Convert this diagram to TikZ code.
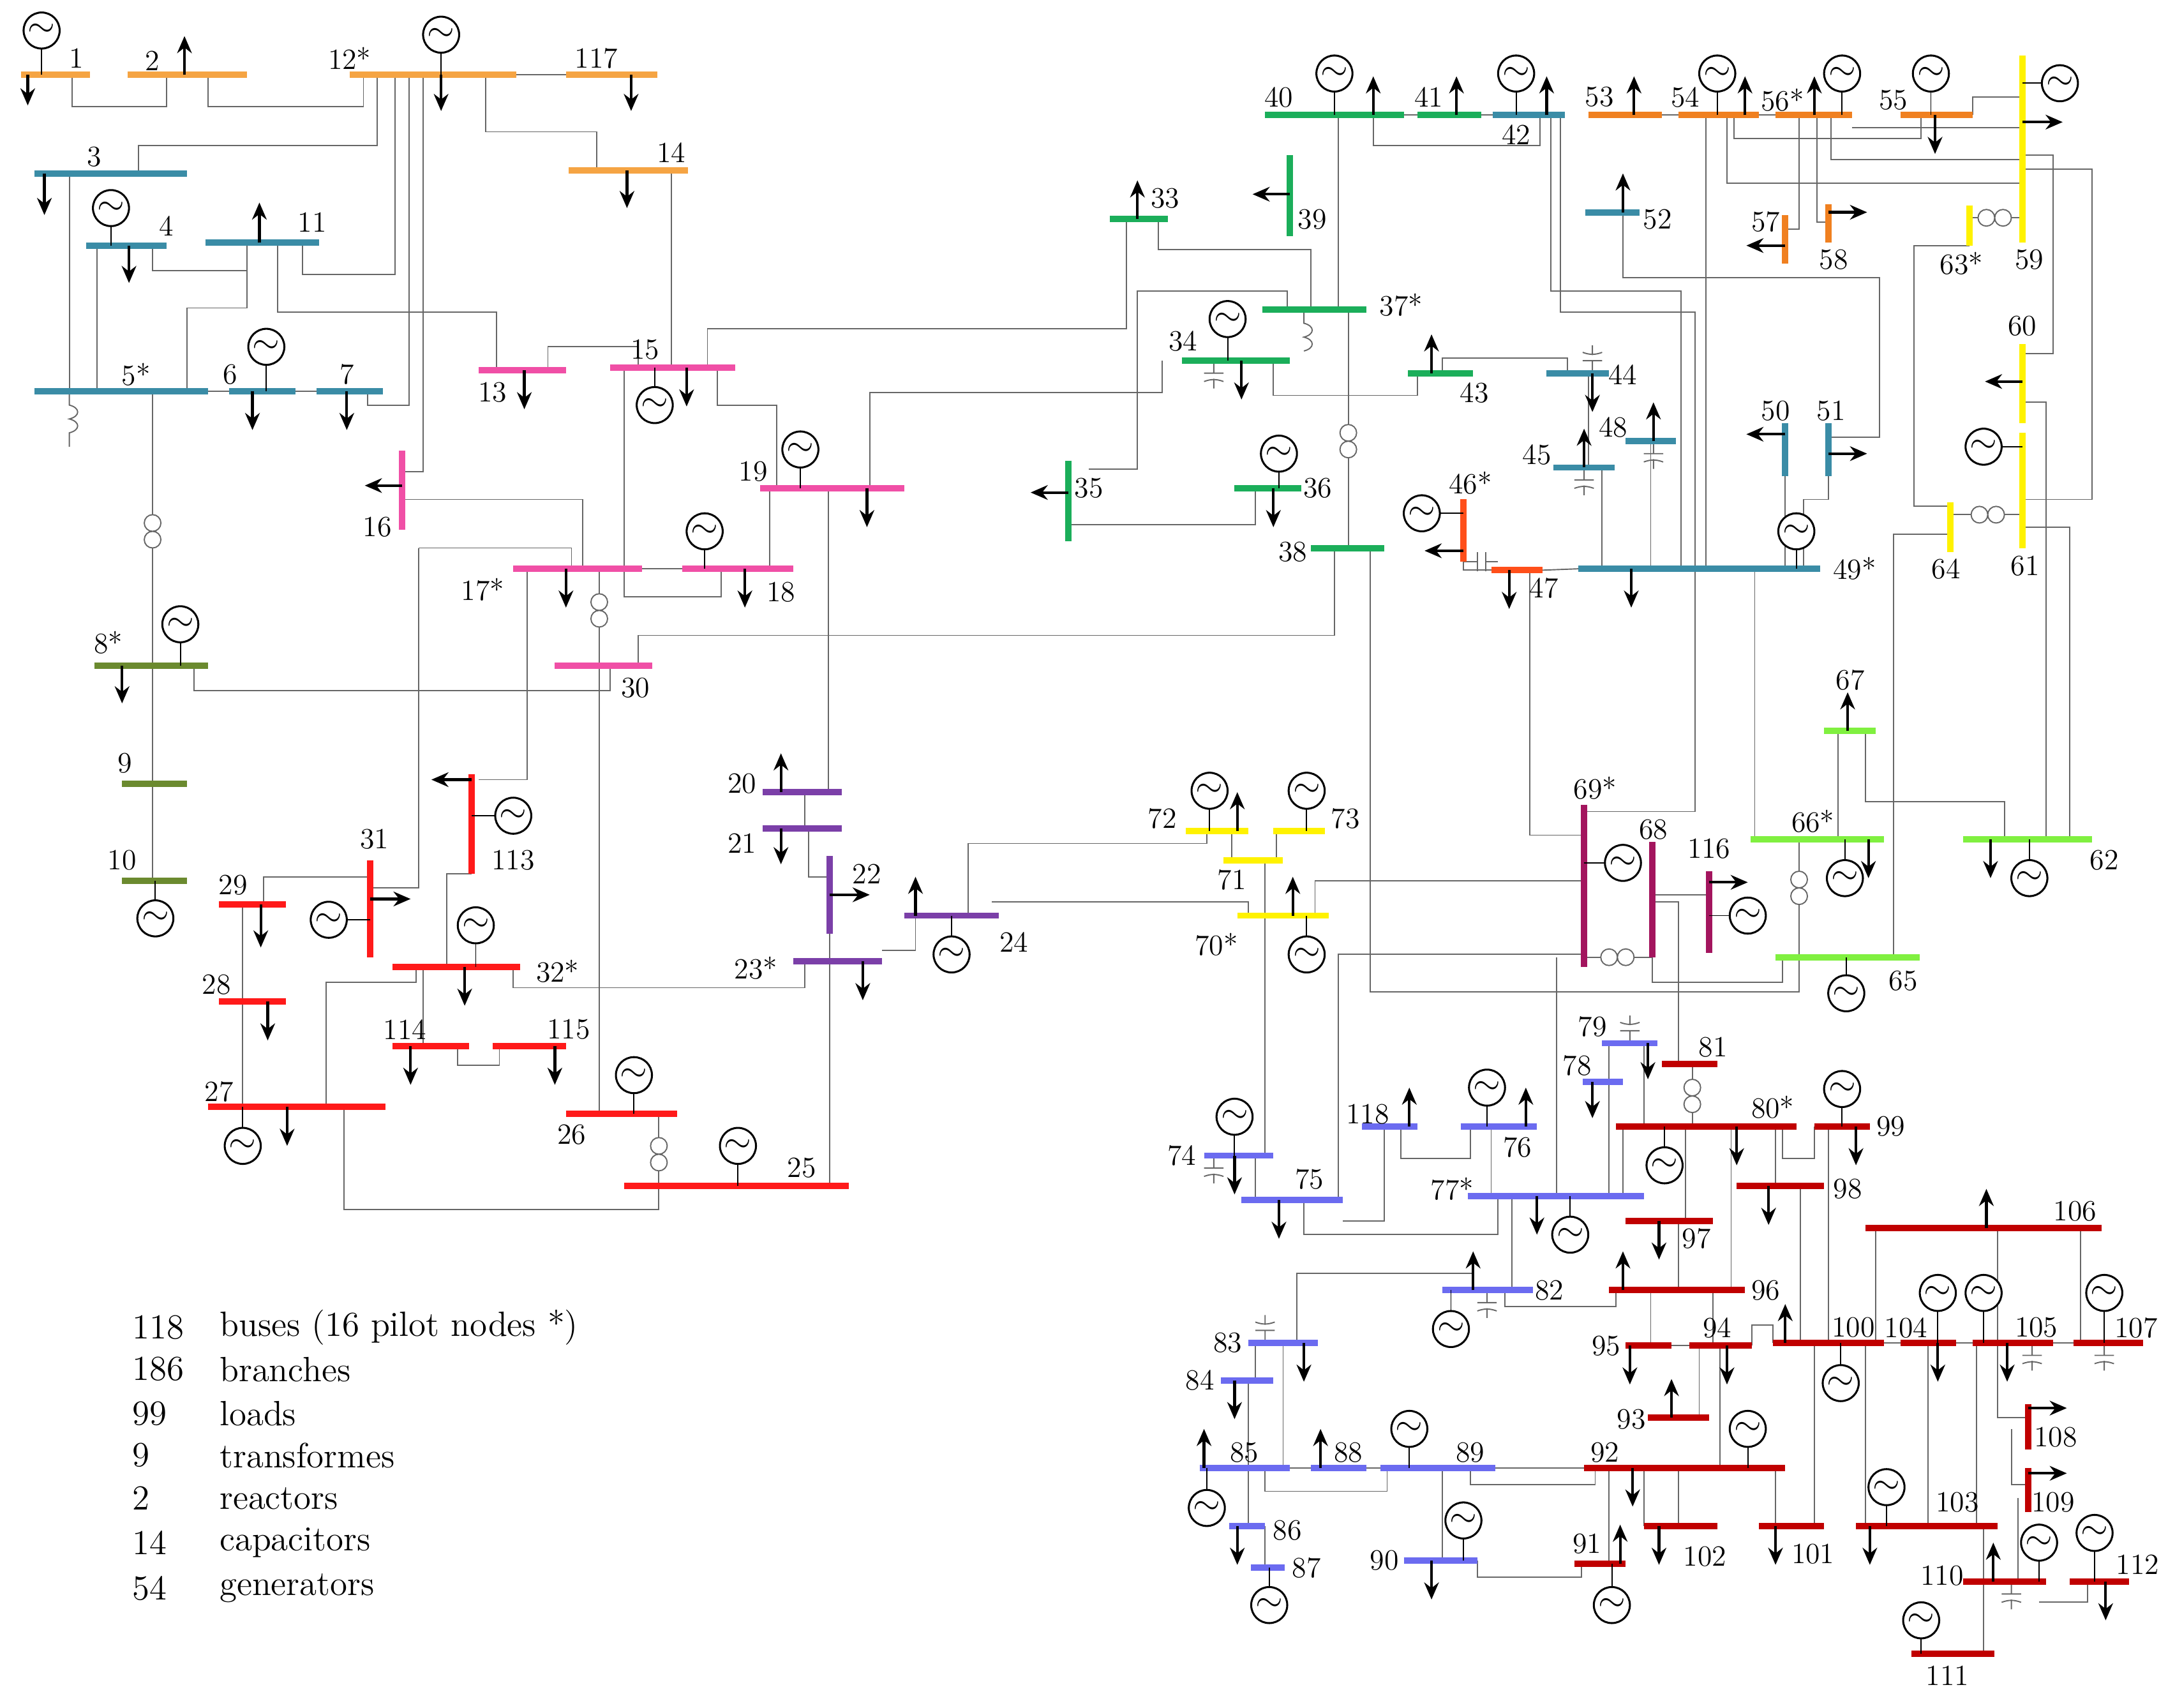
\documentclass[tikz,border=0pt]{standalone}
\usetikzlibrary{arrows.meta}
\definecolor{cOr}{HTML}{F5A443}\definecolor{cTe}{HTML}{3A8CA6}\definecolor{cPk}{HTML}{F04FA6}
\definecolor{cOl}{HTML}{6B8A2F}\definecolor{cRd}{HTML}{FF1A1A}\definecolor{cPu}{HTML}{7B3FA8}
\definecolor{cGr}{HTML}{1BAE5A}\definecolor{cO2}{HTML}{F08020}\definecolor{cOR}{HTML}{FF4F1A}
\definecolor{cYe}{HTML}{FFF200}\definecolor{cLg}{HTML}{80F040}\definecolor{cMg}{HTML}{A3155E}
\definecolor{cBl}{HTML}{6B6BF0}\definecolor{cDr}{HTML}{C00000}
\tikzset{bus/.style={line width=2.6pt},wire/.style={draw=gray!80!black,line width=0.5pt},
 gen/.style={circle,draw=black,fill=white,line width=0.8pt,minimum size=0.52cm,inner sep=0pt,font=\Large},
 load/.style={line width=1.1pt,-{Stealth[length=7pt,width=6pt]}},
 lab/.style={font=\large,inner sep=0pt},
 leg/.style={font=\Large,anchor=west,inner sep=0pt}}
\newcommand\Hb[4]{\draw[bus,#4] (#1,#3)--(#2,#3);}
\newcommand\Vb[4]{\draw[bus,#4] (#1,#2)--(#1,#3);}
\newcommand\Gn[3]{\draw[wire,black] (#1,#3)--(#1,#2); \node[gen] at (#1,#2) {$\sim$};}
\newcommand\Gh[3]{\draw[wire,black] (#3,#2)--(#1,#2); \node[gen] at (#1,#2) {$\sim$};}
\newcommand\Ld[4]{\draw[load] (#1,#2)--(#3,#4);}
\newcommand\Lb[3]{\node[lab] at (#1,#2) {#3};}
\newcommand\Br[1]{\draw[wire] #1;}
\newcommand\Xv[2]{\draw[wire,fill=white] (#1,#2-6) circle (0.12cm) (#1,#2+6) circle (0.12cm);}
\newcommand\Xh[2]{\draw[wire,fill=white] (#1-6,#2) circle (0.12cm) (#1+6,#2) circle (0.12cm);}
\newcommand\Cd[2]{\draw[wire] (#1,#2)--(#1,#2+9) (#1-7,#2+9)--(#1+7,#2+9) (#1-7,#2+15) to[bend left=20] (#1+7,#2+15) (#1,#2+13)--(#1,#2+20);}
\newcommand\Cu[2]{\draw[wire] (#1,#2)--(#1,#2-9) (#1-7,#2-9)--(#1+7,#2-9) (#1-7,#2-15) to[bend right=20] (#1+7,#2-15) (#1,#2-13)--(#1,#2-20);}
\begin{document}
\begin{tikzpicture}[x=0.02cm,y=-0.02cm]
\useasboundingbox (0,0) rectangle (1568,1231);
% ---------------- branches
\Br{(52,54)--(52,77)--(120,77)--(120,54)}
\Br{(150,54)--(150,77)--(262,77)--(262,54)}
\Br{(50,125)--(50,282)}
\Br{(100,125)--(100,105)--(272,105)--(272,54)}
\Br{(70,177)--(70,282)}
\Br{(110,177)--(110,195)--(178,195)--(178,175)}
\Br{(135,282)--(135,222)--(178,222)--(178,175)}
\Br{(200,175)--(200,225)--(358,225)--(358,267)}
\Br{(218,175)--(218,198)--(285,198)--(285,54)}
\Br{(265,282)--(265,292)--(295,292)--(295,54)}
\Br{(150,282)--(165,282) (213,282)--(228,282)}
\Br{(305,54)--(305,340)--(290,340)}
\Br{(350,54)--(350,95)--(430,95)--(430,123)}
\Br{(372,54)--(408,54)}
\Br{(484,123)--(484,265)}
\Br{(395,267)--(395,250)--(460,250)--(460,265)}
\Br{(110,282)--(110,480)--(110,635)}
\Br{(140,480)--(140,498)--(440,498)--(440,480)}
\Br{(450,265)--(450,430)--(520,430)--(520,410)}
\Br{(517,265)--(517,292)--(560,292)--(560,352)}
\Br{(510,265)--(510,237)--(812,237)--(812,158)}
\Br{(290,360)--(420,360)--(420,410)}
\Br{(463,410)--(492,410)}
\Br{(432,410)--(432,480)}
\Br{(380,410)--(380,562)--(345,562)}
\Br{(302,395)--(412,395)--(412,410) (302,395)--(302,640)--(267,640)}
\Br{(597,352)--(597,571)}
\Br{(627,352)--(627,283)--(838,283)--(838,260)}
\Br{(555,352)--(555,410)}
\Br{(460,480)--(460,458)--(962,458)--(962,395)}
\Br{(432,480)--(432,803)}
\Br{(580,571)--(580,597)}
\Br{(583,597)--(583,632)--(598,632)}
\Br{(598,673)--(598,855)}
\Br{(636,685)--(660,685)--(660,660)}
\Br{(580,693)--(580,712)--(370,712)--(370,697)}
\Br{(698,660)--(698,608)--(870,608)--(870,599)}
\Br{(715,650)--(900,650)--(900,660)}
\Br{(475,855)--(475,872)--(248,872)--(248,798)}
\Br{(475,803)--(475,855)}
\Br{(175,652)--(175,798)}
\Br{(190,652)--(190,632)--(267,632)}
\Br{(235,798)--(235,708)--(300,708)--(300,697)}
\Br{(322,697)--(322,630)--(340,630)}
\Br{(305,697)--(305,754)}
\Br{(330,754)--(330,768)--(360,768)--(360,754)}
\Br{(835,158)--(835,180)--(945,180)--(945,223)}
\Br{(785,338)--(820,338)--(820,210)--(928,210)--(928,223)}
\Br{(770,378)--(905,378)--(905,352)}
\Br{(918,260)--(918,285)--(1022,285)--(1022,269)}
\Br{(972,223)--(972,395)}
\Br{(965,223)--(965,83)}
\Br{(988,395)--(988,715)--(1297,715)--(1297,690)}
\Br{(1012,83)--(1022,83) (1068,83)--(1076,83)}
\Br{(990,83)--(990,105)--(1110,105)--(1110,83)}
\Br{(1118,83)--(1118,210)--(1212,210)--(1212,410)}
\Br{(1125,83)--(1125,225)--(1222,225)--(1222,410)}
\Br{(1040,269)--(1040,258)--(1130,258)--(1130,269)}
\Br{(1145,269)--(1145,337)}
\Br{(1155,337)--(1155,410)}
\Br{(1055,405)--(1055,411)--(1075,411)}
\Br{(1112,411)--(1138,410)}
\Br{(1103,411)--(1103,602)--(1142,602)}
\Br{(1190,318)--(1190,410)}
\Br{(1287,343)--(1287,410)}
\Br{(1318,343)--(1318,360)--(1300,360)--(1300,410)}
\Br{(1230,83)--(1230,410)}
\Br{(1265,410)--(1265,605)}
\Br{(1222,410)--(1222,585)--(1142,585)}
\Br{(1170,153)--(1170,200)--(1355,200)--(1355,315)--(1318,315)}
\Br{(1198,83)--(1210,83) (1268,83)--(1280,83)}
\Br{(1250,83)--(1250,100)--(1385,100)--(1385,83)}
\Br{(1245,83)--(1245,132)--(1458,132)}
\Br{(1422,83)--(1422,70)--(1458,70)}
\Br{(1297,83)--(1297,165)--(1287,165)}
\Br{(1310,83)--(1310,160)--(1318,160)}
\Br{(1320,83)--(1320,115)--(1458,115)}
\Br{(1335,92)--(1458,92)}
\Br{(1458,112)--(1480,112)--(1480,255)--(1458,255)}
\Br{(1458,122)--(1508,122)--(1508,360)--(1458,360)}
\Br{(1420,157)--(1458,157)}
\Br{(1458,290)--(1475,290)--(1475,605)}
\Br{(1458,380)--(1492,380)--(1492,605)}
\Br{(1406,371)--(1458,371)}
\Br{(1325,527)--(1325,605)}
\Br{(1345,527)--(1345,578)--(1445,578)--(1445,605)}
\Br{(1406,385)--(1365,385)--(1365,690)}
\Br{(1420,177)--(1380,177)--(1380,365)--(1406,365)}
\Br{(1297,605)--(1297,690)}
\Br{(1285,690)--(1285,708)--(1191,708)--(1191,690)}
\Br{(1142,690)--(1191,690)}
\Br{(1191,650)--(1210,650)--(1210,767)}
\Br{(1191,645)--(1232,645)}
\Br{(1142,635)--(948,635)--(948,660)}
\Br{(1142,688)--(965,688)--(965,865)}
\Br{(1122,690)--(1122,862)}
\Br{(912,620)--(912,833)}
\Br{(888,620)--(888,599) (920,620)--(920,599)}
\Br{(905,833)--(905,865)}
\Br{(940,865)--(940,890)--(1080,890)--(1080,862)}
\Br{(968,880)--(998,880)--(998,812)}
\Br{(1075,812)--(1075,862)}
\Br{(1010,812)--(1010,835)--(1060,835)--(1060,812)}
\Br{(1160,752)--(1160,862)}
\Br{(1170,862)--(1170,812)}
\Br{(1090,862)--(1090,930)}
\Br{(1185,752)--(1185,812)}
\Br{(1248,812)--(1248,930) (1215,812)--(1215,880) (1280,812)--(1280,855)}
\Br{(1285,812)--(1285,835)--(1308,835)--(1308,812)}
\Br{(1220,767)--(1220,812)}
\Br{(935,968)--(935,918)--(1062,918)--(1062,930)}
\Br{(1085,930)--(1085,942)--(1165,942)--(1165,930)}
\Br{(905,968)--(905,995) (925,968)--(925,1058) (900,995)--(900,1100) (912,1100)--(912,1130)}
\Br{(930,1058)--(945,1058) (985,1058)--(995,1058)}
\Br{(912,1058)--(912,1075)--(1000,1075)--(1000,1058)}
\Br{(1040,1058)--(1040,1125)}
\Br{(1078,1058)--(1142,1058)}
\Br{(1060,1058)--(1060,1070)--(1150,1070)--(1150,1058)}
\Br{(1065,1125)--(1065,1137)--(1140,1137)--(1140,1127)}
\Br{(1160,1127)--(1160,1058)}
\Br{(1225,1022)--(1225,970) (1240,1058)--(1240,970) (1210,1058)--(1210,1100)}
\Br{(1205,970)--(1218,970) (1235,930)--(1235,970) (1190,930)--(1190,970) (1210,880)--(1210,930)}
\Br{(1263,970)--(1263,955)--(1278,955)--(1278,968)}
\Br{(1298,855)--(1298,968) (1318,812)--(1318,968) (1308,968)--(1308,1100)}
\Br{(1345,968)--(1345,1100) (1358,968)--(1370,968) (1352,968)--(1352,885)}
\Br{(1390,968)--(1390,1100) (1425,968)--(1425,1100) (1430,1100)--(1430,1192)}
\Br{(1410,968)--(1422,968) (1440,885)--(1440,968) (1480,968)--(1495,968) (1500,885)--(1500,968)}
\Br{(1440,968)--(1440,1022)--(1462,1022)}
\Br{(1450,1030)--(1450,1070)--(1462,1070)}
\Br{(1455,1080)--(1455,1140)}
\Br{(1470,1155)--(1505,1155)--(1505,1140)}
\Br{(1185,1058)--(1185,1100) (1280,1058)--(1280,1100)}
% transformers
\Xv{110}{383}\Xv{432}{440}\Xv{475}{832}\Xv{972}{318}\Xv{1297}{640}\Xv{1220}{790}
\Xh{1438}{157}\Xh{1433}{371}\Xh{1166}{690}
% reactors
\draw[wire] (50,282)--(50,292) .. controls (58,294) and (58,300) .. (50,302) .. controls (58,304) and (58,310) .. (50,312)--(50,322);
\draw[wire] (940,223)--(940,233) .. controls (948,235) and (948,241) .. (940,243) .. controls (948,245) and (948,251) .. (940,253);
% capacitors
\Cd{875}{260}\Cu{1148}{269}\Cd{1142}{337}\Cd{1192}{318}\Cu{1175}{752}\Cd{875}{833}\Cd{1072}{930}\Cu{912}{968}
\Cd{1465}{968}\Cd{1517}{968}\Cd{1450}{1140}
\draw[wire] (1055,405)--(1065,405) (1065,398)--(1065,412) (1071,398)--(1071,412) (1071,405)--(1080,405);
% ---------------- buses
\Hb{15}{65}{54}{cOr}\Hb{92}{178}{54}{cOr}\Hb{252}{372}{54}{cOr}\Hb{408}{474}{54}{cOr}\Hb{410}{496}{123}{cOr}
\Hb{25}{135}{125}{cTe}\Hb{62}{120}{177}{cTe}\Hb{148}{230}{175}{cTe}\Hb{25}{150}{282}{cTe}\Hb{165}{213}{282}{cTe}\Hb{228}{276}{282}{cTe}
\Hb{345}{408}{267}{cPk}\Hb{440}{530}{265}{cPk}\Vb{290}{325}{382}{cPk}\Hb{370}{463}{410}{cPk}\Hb{492}{572}{410}{cPk}\Hb{548}{652}{352}{cPk}\Hb{400}{470}{480}{cPk}
\Hb{68}{150}{480}{cOl}\Hb{88}{135}{565}{cOl}\Hb{88}{135}{635}{cOl}
\Hb{158}{206}{652}{cRd}\Hb{158}{206}{722}{cRd}\Hb{150}{278}{798}{cRd}\Vb{267}{620}{690}{cRd}\Vb{340}{558}{630}{cRd}
\Hb{283}{375}{697}{cRd}\Hb{283}{338}{754}{cRd}\Hb{355}{408}{754}{cRd}\Hb{408}{488}{803}{cRd}\Hb{450}{612}{855}{cRd}
\Hb{550}{607}{571}{cPu}\Hb{550}{607}{597}{cPu}\Vb{598}{617}{673}{cPu}\Hb{572}{636}{693}{cPu}\Hb{652}{720}{660}{cPu}
\Hb{912}{1012}{83}{cGr}\Hb{1022}{1068}{83}{cGr}\Vb{930}{112}{170}{cGr}\Hb{800}{842}{158}{cGr}\Hb{910}{985}{223}{cGr}
\Hb{852}{930}{260}{cGr}\Hb{1015}{1062}{269}{cGr}\Vb{770}{332}{390}{cGr}\Hb{890}{938}{352}{cGr}\Hb{945}{998}{395}{cGr}
\Hb{1076}{1128}{83}{cTe}\Hb{1143}{1182}{153}{cTe}\Hb{1115}{1160}{269}{cTe}\Hb{1120}{1164}{337}{cTe}\Hb{1172}{1208}{318}{cTe}
\Hb{1138}{1312}{410}{cTe}\Vb{1287}{305}{343}{cTe}\Vb{1318}{305}{343}{cTe}
\Hb{1145}{1198}{83}{cO2}\Hb{1210}{1268}{83}{cO2}\Hb{1280}{1335}{83}{cO2}\Hb{1370}{1422}{83}{cO2}\Vb{1287}{155}{190}{cO2}\Vb{1318}{147}{175}{cO2}
\Vb{1055}{360}{405}{cOR}\Hb{1075}{1112}{411}{cOR}
\Vb{1458}{40}{175}{cYe}\Vb{1420}{148}{177}{cYe}\Vb{1458}{248}{305}{cYe}\Vb{1458}{312}{395}{cYe}\Vb{1406}{362}{398}{cYe}
\Hb{855}{900}{599}{cYe}\Hb{918}{955}{599}{cYe}\Hb{882}{925}{620}{cYe}\Hb{892}{958}{660}{cYe}
\Hb{1315}{1352}{527}{cLg}\Hb{1262}{1358}{605}{cLg}\Hb{1415}{1508}{605}{cLg}\Hb{1280}{1384}{690}{cLg}
\Vb{1142}{580}{697}{cMg}\Vb{1191}{607}{690}{cMg}\Vb{1232}{628}{687}{cMg}
\Hb{1155}{1195}{752}{cBl}\Hb{1141}{1170}{780}{cBl}\Hb{982}{1022}{812}{cBl}\Hb{1053}{1108}{812}{cBl}\Hb{868}{918}{833}{cBl}
\Hb{895}{968}{865}{cBl}\Hb{1058}{1185}{862}{cBl}\Hb{1040}{1105}{930}{cBl}\Hb{900}{950}{968}{cBl}\Hb{880}{918}{995}{cBl}
\Hb{865}{930}{1058}{cBl}\Hb{886}{912}{1100}{cBl}\Hb{902}{926}{1130}{cBl}\Hb{945}{985}{1058}{cBl}\Hb{995}{1078}{1058}{cBl}\Hb{1012}{1065}{1125}{cBl}
\Hb{1198}{1238}{767}{cDr}\Hb{1165}{1295}{812}{cDr}\Hb{1308}{1348}{812}{cDr}\Hb{1252}{1315}{855}{cDr}\Hb{1172}{1235}{880}{cDr}
\Hb{1160}{1258}{930}{cDr}\Hb{1172}{1205}{970}{cDr}\Hb{1218}{1263}{970}{cDr}\Hb{1278}{1358}{968}{cDr}\Hb{1370}{1410}{968}{cDr}
\Hb{1422}{1480}{968}{cDr}\Hb{1495}{1545}{968}{cDr}\Hb{1345}{1515}{885}{cDr}\Hb{1188}{1232}{1022}{cDr}\Hb{1142}{1287}{1058}{cDr}
\Hb{1185}{1238}{1100}{cDr}\Hb{1268}{1315}{1100}{cDr}\Hb{1135}{1172}{1127}{cDr}\Hb{1338}{1440}{1100}{cDr}
\Vb{1462}{1012}{1045}{cDr}\Vb{1462}{1058}{1090}{cDr}\Hb{1415}{1475}{1140}{cDr}\Hb{1492}{1535}{1140}{cDr}\Hb{1378}{1438}{1192}{cDr}
% ---------------- generators
\Gn{30}{22}{54}\Gn{318}{25}{54}\Gn{80}{150}{177}\Gn{192}{250}{282}\Gn{472}{292}{265}\Gn{508}{383}{410}\Gn{577}{324}{352}
\Gn{130}{450}{480}\Gn{112}{662}{635}\Gh{237}{663}{267}\Gh{370}{588}{340}\Gn{343}{667}{697}\Gn{175}{826}{798}\Gn{457}{775}{803}\Gn{532}{826}{855}
\Gn{686}{688}{660}\Gn{962}{53}{83}\Gn{885}{230}{260}\Gn{922}{327}{352}\Gn{1093}{53}{83}\Gn{1295}{383}{410}\Gn{1238}{53}{83}\Gn{1328}{53}{83}\Gn{1392}{53}{83}
\Gh{1025}{370}{1055}\Gh{1485}{60}{1458}\Gh{1430}{322}{1458}\Gn{872}{570}{599}\Gn{942}{570}{599}\Gn{942}{688}{660}
\Gn{1330}{633}{605}\Gn{1463}{633}{605}\Gn{1331}{716}{690}\Gh{1170}{622}{1142}\Gh{1260}{660}{1232}
\Gn{1072}{784}{812}\Gn{890}{805}{833}\Gn{1132}{890}{862}\Gn{1046}{958}{930}\Gn{870}{1087}{1058}\Gn{915}{1157}{1130}\Gn{1016}{1030}{1058}\Gn{1055}{1096}{1125}
\Gn{1200}{840}{812}\Gn{1328}{785}{812}\Gn{1327}{997}{968}\Gn{1397}{932}{968}\Gn{1430}{932}{968}\Gn{1517}{932}{968}\Gn{1260}{1030}{1058}
\Gn{1162}{1157}{1127}\Gn{1360}{1072}{1100}\Gn{1470}{1112}{1140}\Gn{1510}{1105}{1140}\Gn{1385}{1168}{1192}
% ---------------- loads
\Ld{20}{54}{20}{76}\Ld{32}{125}{32}{155}\Ld{133}{54}{133}{26}\Ld{318}{54}{318}{80}\Ld{455}{54}{455}{80}\Ld{452}{123}{452}{150}
\Ld{93}{177}{93}{204}\Ld{187}{175}{187}{146}\Ld{182}{282}{182}{310}\Ld{250}{282}{250}{310}
\Ld{378}{267}{378}{295}\Ld{495}{265}{495}{293}\Ld{290}{350}{263}{350}\Ld{408}{410}{408}{438}\Ld{537}{410}{537}{438}\Ld{625}{352}{625}{380}
\Ld{88}{480}{88}{507}\Ld{188}{652}{188}{683}\Ld{193}{722}{193}{750}\Ld{207}{798}{207}{826}\Ld{267}{648}{296}{648}\Ld{340}{562}{311}{562}
\Ld{335}{697}{335}{725}\Ld{296}{754}{296}{782}\Ld{400}{754}{400}{782}
\Ld{563}{571}{563}{543}\Ld{563}{597}{563}{623}\Ld{598}{645}{627}{645}\Ld{622}{693}{622}{721}\Ld{660}{660}{660}{632}
\Ld{990}{83}{990}{55}\Ld{1050}{83}{1050}{55}\Ld{930}{140}{903}{140}\Ld{820}{158}{820}{130}\Ld{895}{260}{895}{288}\Ld{1032}{269}{1032}{241}
\Ld{770}{355}{743}{355}\Ld{918}{352}{918}{380}
\Ld{1115}{83}{1115}{55}\Ld{1170}{153}{1170}{125}\Ld{1148}{269}{1148}{297}\Ld{1142}{337}{1142}{309}\Ld{1192}{318}{1192}{290}
\Ld{1176}{410}{1176}{438}\Ld{1287}{313}{1259}{313}\Ld{1318}{327}{1346}{327}
\Ld{1178}{83}{1178}{55}\Ld{1258}{83}{1258}{55}\Ld{1308}{83}{1308}{55}\Ld{1395}{83}{1395}{111}\Ld{1287}{177}{1259}{177}\Ld{1318}{153}{1346}{153}
\Ld{1055}{397}{1027}{397}\Ld{1088}{411}{1088}{439}
\Ld{1458}{88}{1487}{88}\Ld{1458}{275}{1431}{275}\Ld{892}{599}{892}{571}\Ld{932}{660}{932}{632}
\Ld{1332}{527}{1332}{499}\Ld{1347}{605}{1347}{633}\Ld{1435}{605}{1435}{633}\Ld{1232}{636}{1260}{636}
\Ld{1188}{752}{1188}{778}\Ld{1148}{780}{1148}{806}\Ld{1016}{812}{1016}{784}\Ld{1100}{812}{1100}{784}\Ld{890}{833}{890}{861}
\Ld{922}{865}{922}{893}\Ld{1108}{862}{1108}{890}\Ld{1062}{930}{1062}{902}\Ld{940}{968}{940}{996}\Ld{890}{995}{890}{1023}
\Ld{868}{1058}{868}{1030}\Ld{892}{1100}{892}{1128}\Ld{952}{1058}{952}{1030}\Ld{1032}{1125}{1032}{1153}
\Ld{1252}{812}{1252}{840}\Ld{1338}{812}{1338}{840}\Ld{1275}{855}{1275}{883}\Ld{1196}{880}{1196}{908}\Ld{1170}{930}{1170}{902}
\Ld{1175}{970}{1175}{998}\Ld{1245}{970}{1245}{998}\Ld{1287}{968}{1287}{940}\Ld{1397}{968}{1397}{996}\Ld{1447}{968}{1447}{996}
\Ld{1432}{885}{1432}{857}\Ld{1205}{1022}{1205}{994}\Ld{1177}{1058}{1177}{1086}\Ld{1196}{1100}{1196}{1128}\Ld{1280}{1100}{1280}{1128}
\Ld{1168}{1127}{1168}{1099}\Ld{1348}{1100}{1348}{1128}\Ld{1462}{1015}{1490}{1015}\Ld{1462}{1062}{1490}{1062}
\Ld{1437}{1140}{1437}{1112}\Ld{1518}{1140}{1518}{1168}
% ---------------- labels
\Lb{55}{42}{1}\Lb{110}{44}{2}\Lb{252}{42}{12*}\Lb{430}{42}{117}\Lb{484}{110}{14}\Lb{68}{113}{3}\Lb{120}{163}{4}\Lb{225}{160}{11}
\Lb{98}{270}{5*}\Lb{166}{270}{6}\Lb{250}{270}{7}\Lb{355}{283}{13}\Lb{465}{252}{15}\Lb{272}{380}{16}\Lb{348}{425}{17*}\Lb{563}{427}{18}
\Lb{543}{340}{19}\Lb{458}{496}{30}\Lb{78}{463}{8*}\Lb{90}{550}{9}\Lb{88}{620}{10}\Lb{168}{638}{29}\Lb{156}{710}{28}\Lb{158}{787}{27}
\Lb{270}{605}{31}\Lb{370}{620}{113}\Lb{402}{700}{32*}\Lb{292}{742}{114}\Lb{410}{742}{115}\Lb{412}{818}{26}\Lb{578}{842}{25}
\Lb{535}{565}{20}\Lb{535}{608}{21}\Lb{625}{630}{22}\Lb{545}{698}{23*}\Lb{731}{679}{24}\Lb{840}{143}{33}\Lb{922}{70}{40}\Lb{1030}{70}{41}
\Lb{1093}{97}{42}\Lb{946}{158}{39}\Lb{1010}{220}{37*}\Lb{853}{246}{34}\Lb{1063}{283}{43}\Lb{785}{352}{35}\Lb{950}{352}{36}\Lb{932}{398}{38}
\Lb{1170}{270}{44}\Lb{1108}{328}{45}\Lb{1163}{308}{48}\Lb{1060}{348}{46*}\Lb{1113}{424}{47}\Lb{1337}{410}{49*}\Lb{1280}{296}{50}\Lb{1320}{296}{51}
\Lb{1195}{158}{52}\Lb{1153}{70}{53}\Lb{1215}{70}{54}\Lb{1285}{72}{56*}\Lb{1365}{72}{55}\Lb{1273}{160}{57}\Lb{1322}{187}{58}\Lb{1463}{187}{59}
\Lb{1414}{190}{63*}\Lb{1458}{235}{60}\Lb{1460}{408}{61}\Lb{1403}{410}{64}\Lb{1334}{490}{67}\Lb{1307}{592}{66*}\Lb{1517}{620}{62}\Lb{1372}{707}{65}
\Lb{1150}{568}{69*}\Lb{1192}{598}{68}\Lb{1232}{612}{116}\Lb{838}{590}{72}\Lb{970}{590}{73}\Lb{888}{634}{71}\Lb{877}{681}{70*}
\Lb{986}{803}{118}\Lb{1094}{827}{76}\Lb{852}{833}{74}\Lb{944}{850}{75}\Lb{1047}{857}{77*}\Lb{1137}{768}{78}\Lb{1148}{740}{79}\Lb{1235}{755}{81}
\Lb{1278}{798}{80*}\Lb{1363}{812}{99}\Lb{1332}{857}{98}\Lb{1223}{893}{97}\Lb{1273}{930}{96}\Lb{1158}{970}{95}\Lb{1238}{957}{94}\Lb{1336}{957}{100}
\Lb{1374}{957}{104}\Lb{1468}{957}{105}\Lb{1540}{957}{107}\Lb{1496}{873}{106}\Lb{1176}{1023}{93}\Lb{1157}{1047}{92}\Lb{1229}{1122}{102}\Lb{1307}{1120}{101}
\Lb{1144}{1113}{91}\Lb{998}{1125}{90}\Lb{1060}{1047}{89}\Lb{972}{1047}{88}\Lb{897}{1047}{85}\Lb{928}{1103}{86}\Lb{942}{1130}{87}\Lb{865}{995}{84}
\Lb{885}{968}{83}\Lb{1117}{930}{82}\Lb{1411}{1083}{103}\Lb{1482}{1036}{108}\Lb{1480}{1083}{109}\Lb{1400}{1136}{110}\Lb{1541}{1128}{112}\Lb{1404}{1208}{111}
% ---------------- legend
\foreach \n/\t/\y in {118/buses (16 pilot nodes *)/957,186/branches/987,99/loads/1019,9/transformes/1049,2/reactors/1080,14/capacitors/1112,54/generators/1145}{
 \node[leg] at (95,\y) {\n}; \node[leg] at (158,\y) {\t};}
\end{tikzpicture}
\end{document}
